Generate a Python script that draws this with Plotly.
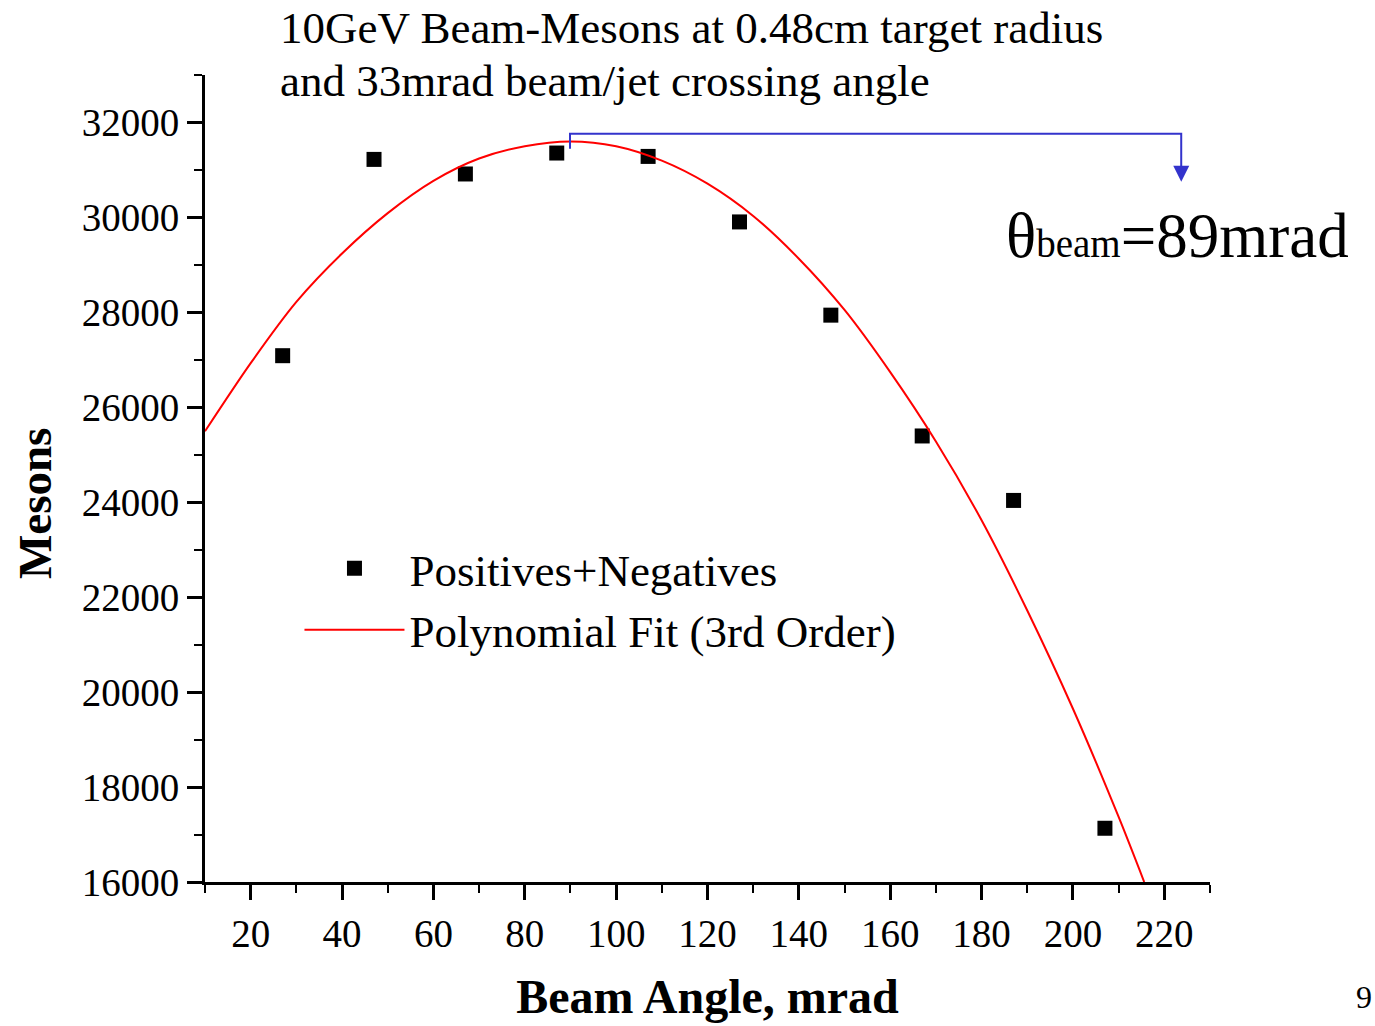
import plotly.graph_objects as go

# Measured data points (Positives+Negatives)
angles = [27, 47, 67, 87, 107, 127, 147, 167, 187, 207]
mesons = [27087, 31222, 30915, 31356, 31285, 29905, 27941, 25396, 24038, 17132]

# Points
fit_x = [10, 20, 30, 40, 50, 60, 70, 80, 90, 100, 110, 120, 130, 140, 150,
         160, 170, 180, 190, 200, 210, 215.6]
fit_y = [25495, 26930, 28220, 29240, 30090, 30770, 31240, 31500, 31600, 31500,
         31195, 30710, 30030, 29130, 28050, 26740, 25280, 23620, 21720, 19650,
         17370, 16000]

title_line1 = "10GeV Beam-Mesons at 0.48cm target radius"
title_line2 = "and 33mrad beam/jet crossing angle"
x_title = "Beam Angle, mrad"
y_title = "Mesons"

FONT = "Liberation Serif"
BLUE = "#3333CC"

fig = go.Figure()
fig.add_trace(go.Scatter(
    x=angles, y=mesons, mode="markers", name="Positives+Negatives",
    marker=dict(symbol="square", size=15, color="black"),
))
fig.add_trace(go.Scatter(
    x=fit_x, y=fit_y, mode="lines", name="Polynomial Fit (3rd Order)",
    line=dict(color="red", width=2, shape="spline", smoothing=0.8),
))

axis_common = dict(
    showline=True, linecolor="black", linewidth=3,
    ticks="outside", ticklen=15, tickwidth=3, tickcolor="black",
    showgrid=False, zeroline=False, mirror=False,
    tickfont=dict(family=FONT, size=39, color="black"),
)

fig.update_xaxes(
    range=[10, 230], tick0=0, dtick=20,
    minor=dict(dtick=10, ticks="outside", ticklen=8, tickwidth=2, tickcolor="black"),
    title=dict(text="<b>%s</b>" % x_title, font=dict(family=FONT, size=48, color="black"), standoff=26),
    **axis_common,
)
fig.update_yaxes(
    range=[16000, 33000], tick0=0, dtick=2000, tickformat="d",
    minor=dict(dtick=1000, ticks="outside", ticklen=8, tickwidth=2, tickcolor="black"),
    **axis_common,
)

# y-axis title placed as rotated text (sits slightly below the axis centre)
fig.add_annotation(x=-0.169, y=0.4685, xref="paper", yref="paper",
                   xanchor="center", yanchor="middle", textangle=-90,
                   text="<b>%s</b>" % y_title, showarrow=False,
                   font=dict(family=FONT, size=47, color="black"))

# Blue bracket marking the optimum beam angle
fig.add_shape(type="path", xref="x", yref="y",
              path="M 89.9 31447 L 89.9 31762 L 223.7 31762 L 223.7 31000",
              line=dict(color=BLUE, width=2))
fig.add_annotation(x=223.7, y=30753, ax=223.7, ay=31100, xref="x", yref="y",
                   axref="x", ayref="y", text="", showarrow=True,
                   arrowhead=2, arrowsize=1.6, arrowwidth=2, arrowcolor=BLUE)

fig.add_annotation(
    x=0.795, y=0.8, xref="paper", yref="paper", xanchor="left", yanchor="middle",
    text='θ<span style="font-size:39px">beam</span>=89mrad', showarrow=False,
    font=dict(family=FONT, size=63, color="black"),
)

fig.add_annotation(x=0.0726, y=1.058, xref="paper", yref="paper", xanchor="left",
                   yanchor="middle", text=title_line1, showarrow=False,
                   font=dict(family=FONT, size=45, color="black"))
fig.add_annotation(x=0.0726, y=0.992, xref="paper", yref="paper", xanchor="left",
                   yanchor="middle", text=title_line2, showarrow=False,
                   font=dict(family=FONT, size=45, color="black"))

# page number at bottom-right corner
fig.add_annotation(x=1.163, y=-0.143, xref="paper", yref="paper", xanchor="right",
                   yanchor="middle", text="9", showarrow=False,
                   font=dict(family=FONT, size=32, color="black"))

fig.update_layout(
    width=1375, height=1026,
    margin=dict(l=205, r=165, t=75, b=142),
    paper_bgcolor="white", plot_bgcolor="white",
    showlegend=True,
    legend=dict(x=0.094, y=0.433, xanchor="left", yanchor="top",
                font=dict(family=FONT, size=45, color="black"),
                bgcolor="rgba(0,0,0,0)", itemwidth=100, tracegroupgap=0),
    font=dict(family=FONT, color="black"),
)

fig.write_html("out.html")
